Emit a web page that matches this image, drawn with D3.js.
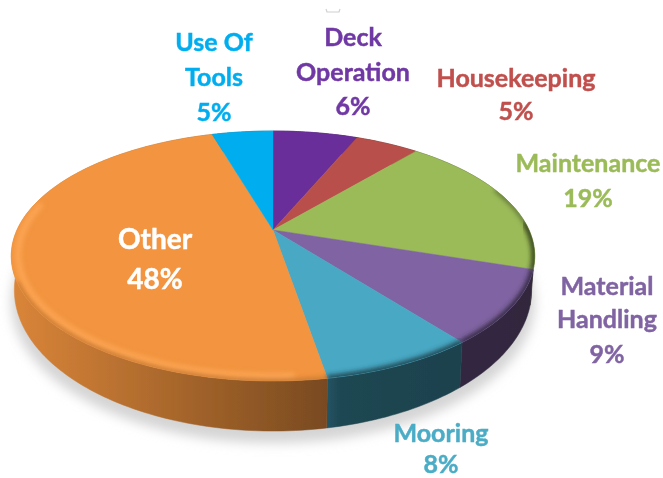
<!DOCTYPE html>
<html lang="en">

<head>
    <meta charset="utf-8">
    <title>Incident categories</title>
    <script src="https://d3js.org/d3.v7.min.js"></script>
    <style type="text/css">
        html, body {
            margin: 0;
            background-color: #fff;
        }
        svg {
            display: block;
        }
        .labels {
            font-family: Lato, sans-serif;
            font-weight: bold;
            font-size: 25px;
            text-anchor: middle;
            stroke-width: 0.45px;
        }
    </style>
</head>

<body>
    <script type="text/javascript">

        //Data - clockwise from 12 o'clock. Slice sizes, labels show them rounded
        const categories = ["Deck Operation", "Housekeeping", "Maintenance", "Material Handling", "Mooring", "Other", "Use Of Tools"];
        const values = [6.4, 4.8, 18.8, 9.4, 7.9, 48.1, 4.6];
        const colors = ["#6b2e9a", "#b9504b", "#9bbb59", "#8064a2", "#48a8c4", "#f2943f", "#00aeef"];
        const textColors = ["#7038a4", "#c0504d", "#9bbb59", "#8064a2", "#4bacc6", "#ffffff", "#00aeef"];

        //label lines and where they sit
        const labelLines = [["Deck", "Operation"], ["Housekeeping"], ["Maintenance"], ["Material", "Handling"], ["Mooring"], ["Other"], ["Use Of", "Tools"]];
        const labelX = [353, 516, 588, 607, 441, 155, 214];
        const labelY = [[46, 81, 115], [87, 120], [172, 207], [295, 328, 363], [442, 473], [249, 289], [51, 86, 121]];

        const width = 663;
        const height = 478;

        //tilted disc: perspective projection of a unit circle
        const persp = 0.208;
        const topFace = { cx: 273, cy: 230, a: 256, b: 119.6 };
        const bottomFace = { cx: 273, cy: 260.6, a: 253, b: 135 };

        function project(face, angle, r = 1) {
            const u = r * Math.sin(angle);
            const v = -r * Math.cos(angle);
            const s = 1 / (1 - persp * v);
            return [face.cx + face.a * u * s, face.cy + face.b * v * s];
        }

        function rim(face, a0, a1, r = 1) {
            const n = Math.max(2, Math.ceil((a1 - a0) / 0.02));
            return d3.range(n + 1).map(i => project(face, a0 + (a1 - a0) * i / n, r));
        }

        const line = d3.line();
        const pie = d3.pie().value(d => d).sort(null);
        const slices = pie(values);
        const fullCircle = line(rim(topFace, 0, 2 * Math.PI)) + "Z";
        const otherIndex = categories.indexOf("Other");

        const svg = d3.select("body")
            .append("svg")
            .attr("width", width)
            .attr("height", height);

        const defs = svg.append("defs");
        defs.append("filter").attr("id", "soft").append("feGaussianBlur").attr("stdDeviation", 0.6);
        defs.append("filter").attr("id", "shadow")
            .attr("x", "-10%").attr("y", "-10%").attr("width", "120%").attr("height", "120%")
            .append("feGaussianBlur").attr("stdDeviation", 6);
        defs.append("filter").attr("id", "bevelBlur")
            .attr("x", "-10%").attr("y", "-10%").attr("width", "120%").attr("height", "120%")
            .append("feGaussianBlur").attr("stdDeviation", 2.6);
        defs.append("filter").attr("id", "textBlur").append("feGaussianBlur").attr("stdDeviation", 0.4);
        defs.append("clipPath").attr("id", "faceClip").append("path").attr("d", fullCircle);

        //wall shading runs darker from left to right
        const wallStops = [12, 120, 220, 327, 340, 430, 535];
        const wallShade = d3.scaleLinear().domain([12, 327, 340, 535]).range([0.1, 0.5, 0.58, 0.62]);
        slices.forEach((d, i) => {
            const grad = defs.append("linearGradient")
                .attr("id", "wall" + i)
                .attr("gradientUnits", "userSpaceOnUse")
                .attr("x1", 12).attr("x2", 535).attr("y1", 0).attr("y2", 0);
            wallStops.forEach(x => {
                grad.append("stop")
                    .attr("offset", (x - 12) / 523)
                    .attr("stop-color", d3.interpolateRgb(colors[i], "#000")(wallShade(x)));
            });
        });

        //shadow under the disc
        svg.append("path")
            .attr("d", line(rim({ ...bottomFace, cy: bottomFace.cy + 12, a: bottomFace.a + 3 }, 0, 2 * Math.PI)) + "Z")
            .attr("fill", "#d4d4d4")
            .attr("filter", "url(#shadow)");

        const chart = svg.append("g").attr("filter", "url(#soft)");

        //walls
        chart.selectAll("path.wall")
            .data(slices)
            .enter()
            .append("path")
            .attr("class", "wall")
            .attr("fill", (d, i) => `url(#wall${i})`)
            .attr("stroke", (d, i) => `url(#wall${i})`)
            .attr("stroke-width", 0.5)
            .attr("d", d => line(rim(topFace, d.startAngle, d.endAngle)
                .concat(rim(bottomFace, d.startAngle, d.endAngle).reverse())) + "Z");

        //top face
        chart.selectAll("path.face")
            .data(slices)
            .enter()
            .append("path")
            .attr("class", "face")
            .attr("fill", (d, i) => colors[i])
            .attr("stroke", (d, i) => colors[i])
            .attr("stroke-width", 0.5)
            .attr("d", d => line([project(topFace, 0, 0)].concat(rim(topFace, d.startAngle, d.endAngle))) + "Z");

        //rounded edge of the face, only along the front
        const bevelStart = 1.5;
        const bevelEnd = 4.3;
        const bevel = chart.append("g").attr("clip-path", "url(#faceClip)");
        const bevelSlices = slices
            .map((d, i) => ({ a0: Math.max(d.startAngle, bevelStart), a1: Math.min(d.endAngle, bevelEnd), i }))
            .filter(d => d.a1 > d.a0);

        //highlight hugging the edge of the orange slice, up round the left side
        bevel.append("path")
            .attr("fill", "none")
            .attr("stroke", "#fda655")
            .attr("stroke-width", 6)
            .attr("filter", "url(#bevelBlur)")
            .attr("d", line(rim(topFace, slices[otherIndex].startAngle + 0.1, 4.95, 0.975)));

        bevel.selectAll("path.dark")
            .data(bevelSlices)
            .enter()
            .append("path")
            .attr("class", "dark")
            .attr("fill", "none")
            .attr("stroke", d => d3.interpolateRgb(colors[d.i], "#000")(d.i === otherIndex ? 0.3 : 0.6))
            .attr("stroke-width", d => d.i === otherIndex ? 2.5 : 6)
            .attr("filter", "url(#bevelBlur)")
            .attr("d", d => line(rim(topFace, d.a0, d.a1)));

        //dark sliver on the right of the green slice
        bevel.append("path")
            .attr("fill", "none")
            .attr("stroke", d3.interpolateRgb(colors[2], "#000")(0.6))
            .attr("stroke-width", 2.5)
            .attr("filter", "url(#bevelBlur)")
            .attr("d", line(rim(topFace, 1.2, slices[2].endAngle)));

        //small selection handle above the chart
        svg.append("path")
            .attr("d", d3.line()([[326, 9], [327, 12], [339, 12], [340, 9]]))
            .attr("fill", "none")
            .attr("stroke", "#d0d0d0")
            .attr("stroke-width", 1.2);

        //LABELS
        const labels = svg.selectAll("g.label")
            .data(slices)
            .enter()
            .append("g")
            .attr("class", "label")
            .attr("filter", "url(#textBlur)")
            .attr("fill", (d, i) => textColors[i])
            .attr("stroke", (d, i) => textColors[i]);

        labels.each(function (d, i) {
            const lines = labelLines[i].concat(Math.round(values[i]) + "%");
            d3.select(this).selectAll("text")
                .data(lines)
                .enter()
                .append("text")
                .attr("class", "labels")
                .attr("x", labelX[i])
                .attr("y", (t, j) => labelY[i][j])
                .style("font-size", i === otherIndex ? "28px" : null)
                .text(t => t);
        });

    </script>
</body>

</html>
